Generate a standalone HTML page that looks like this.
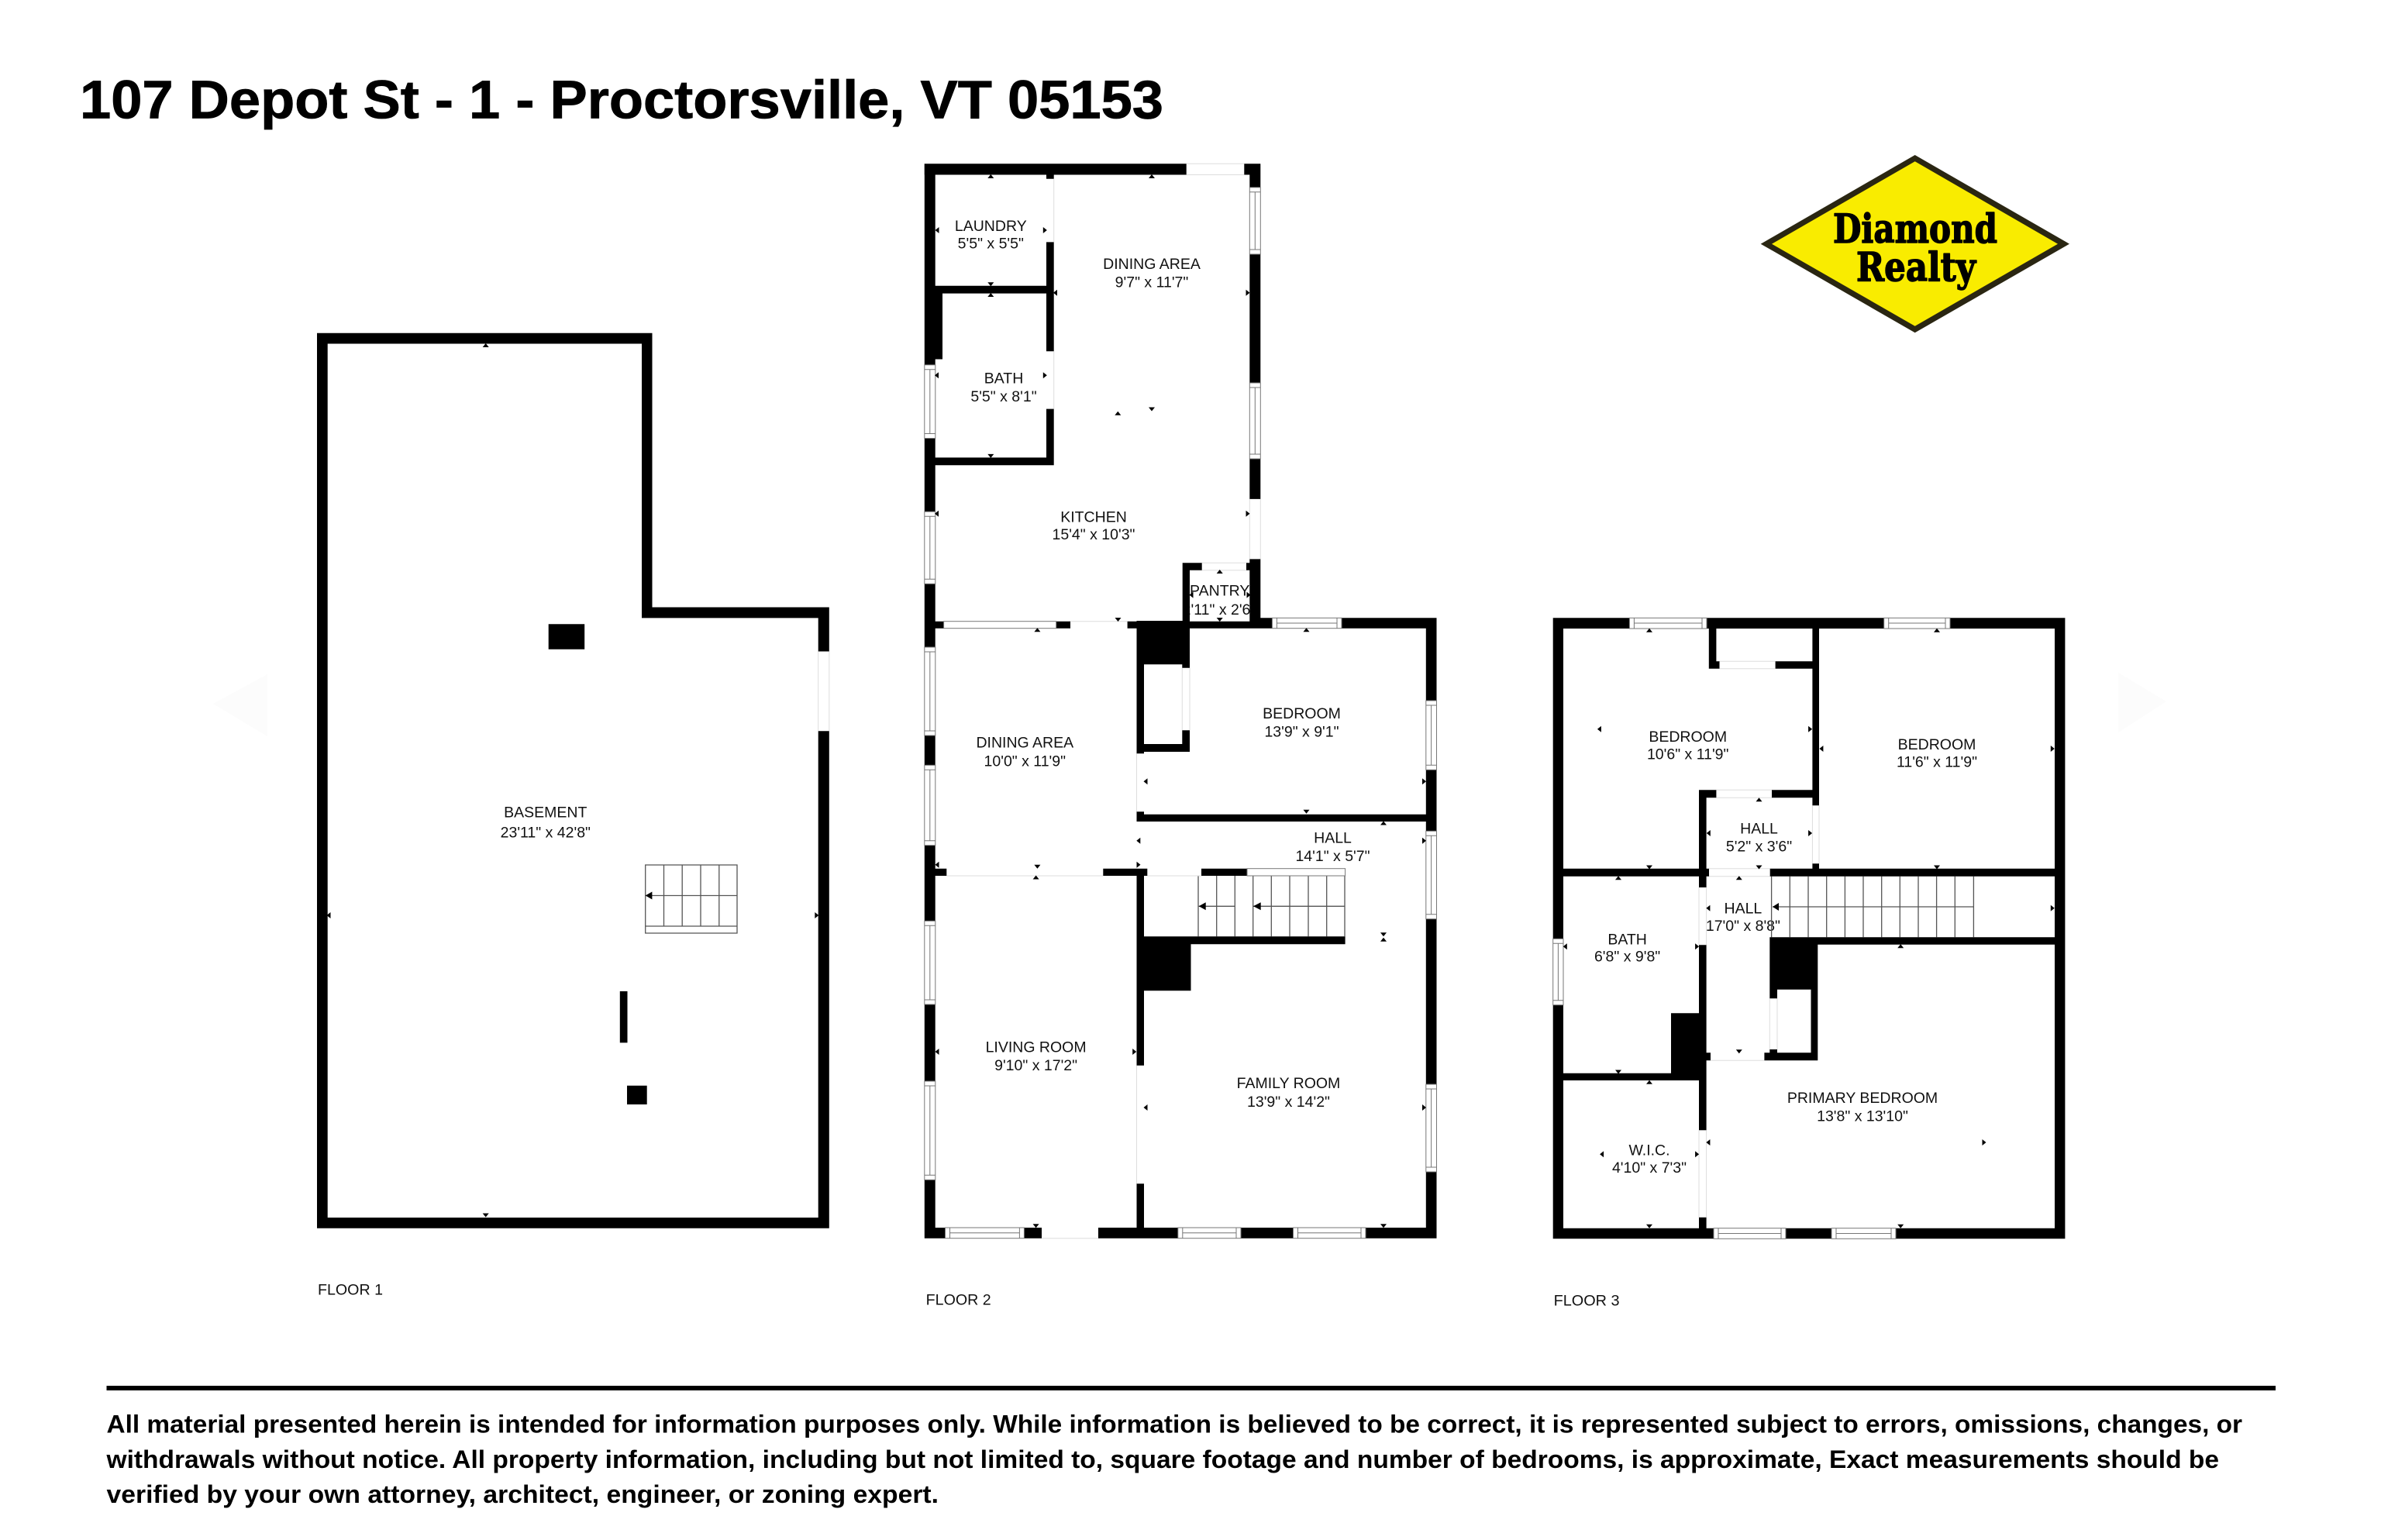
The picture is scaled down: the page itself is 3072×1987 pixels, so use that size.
<!DOCTYPE html>
<html lang="en">
<head>
<meta charset="utf-8">
<title>107 Depot St - 1 - Proctorsville, VT 05153</title>
<style>
html,body{margin:0;padding:0;background:#fff}
svg{display:block}
.t{font-family:"Liberation Sans",Arial,sans-serif;font-size:19.5px;fill:#111;text-anchor:middle}
.f{font-family:"Liberation Sans",Arial,sans-serif;font-size:19.5px;fill:#111}
.h{font-family:"Liberation Sans",Arial,sans-serif;font-weight:700;fill:#000}
.lg{font-family:"DejaVu Serif",serif;font-weight:700;font-size:51px;fill:#000;stroke:#000;stroke-width:1.5;stroke-linejoin:round}
.w{fill:#fff;stroke:#777;stroke-width:1}
.wl{fill:none;stroke:#777;stroke-width:1}
.d{fill:none;stroke:#ddd;stroke-width:1}
.s{fill:none;stroke:#555;stroke-width:1.3}
</style>
</head>
<body>
<svg xmlns="http://www.w3.org/2000/svg" width="3072" height="1987" viewBox="0 0 3072 1987">
<defs>
<path id="u" d="M-4 2.5h8l-4-5z"/>
<path id="n" d="M-4 -2.5h8l-4 5z"/>
<path id="l" d="M2.5 -4v8l-5-4z"/>
<path id="r" d="M-2.5 -4v8l5-4z"/>
</defs>
<rect width="3072" height="1987" fill="#fff"/>

<!-- faint chevrons -->
<polygon points="345,870 275,908 345,950" fill="#fcfcfc"/>
<polygon points="2733,868 2795,905 2733,945" fill="#fcfcfc"/>

<!-- title -->
<text class="h" x="103" y="152.7" font-size="70" stroke="#000" stroke-width="0.8" textLength="1398" lengthAdjust="spacingAndGlyphs">107 Depot St - 1 - Proctorsville, VT 05153</text>

<!-- room labels -->
<g>
<text class="t" x="703.8" y="1054.7">BASEMENT</text><text class="t" x="703.8" y="1080.6">23'11&quot; x 42'8&quot;</text>
<text class="t" x="1278.3" y="297.8">LAUNDRY</text><text class="t" x="1278.3" y="320.7">5'5&quot; x 5'5&quot;</text>
<text class="t" x="1486" y="346.8">DINING AREA</text><text class="t" x="1486" y="370.5">9'7&quot; x 11'7&quot;</text>
<text class="t" x="1295" y="494.6">BATH</text><text class="t" x="1295" y="518.2">5'5&quot; x 8'1&quot;</text>
<text class="t" x="1411" y="673.3">KITCHEN</text><text class="t" x="1411" y="696">15'4&quot; x 10'3&quot;</text>
<text class="t" x="1573.7" y="768.4">PANTRY</text><text class="t" x="1573" y="793">2'11&quot; x 2'6&quot;</text>
<text class="t" x="1679.5" y="927">BEDROOM</text><text class="t" x="1679.5" y="950.3">13'9&quot; x 9'1&quot;</text>
<text class="t" x="1322.3" y="964.7">DINING AREA</text><text class="t" x="1322.3" y="988.3">10'0&quot; x 11'9&quot;</text>
<text class="t" x="1719.5" y="1087.7">HALL</text><text class="t" x="1719.5" y="1111">14'1&quot; x 5'7&quot;</text>
<text class="t" x="1336.6" y="1357.7">LIVING ROOM</text><text class="t" x="1336.6" y="1381">9'10&quot; x 17'2&quot;</text>
<text class="t" x="1662.5" y="1404">FAMILY ROOM</text><text class="t" x="1662.5" y="1428">13'9&quot; x 14'2&quot;</text>
<text class="t" x="2177.7" y="957">BEDROOM</text><text class="t" x="2177.7" y="979.7">10'6&quot; x 11'9&quot;</text>
<text class="t" x="2499" y="967">BEDROOM</text><text class="t" x="2499" y="989.3">11'6&quot; x 11'9&quot;</text>
<text class="t" x="2269.5" y="1075.7">HALL</text><text class="t" x="2269.5" y="1098.7">5'2&quot; x 3'6&quot;</text>
<text class="t" x="2248.9" y="1178.3">HALL</text><text class="t" x="2248.9" y="1201">17'0&quot; x 8'8&quot;</text>
<text class="t" x="2099.6" y="1218.7">BATH</text><text class="t" x="2099.6" y="1240.3">6'8&quot; x 9'8&quot;</text>
<text class="t" x="2403" y="1423">PRIMARY BEDROOM</text><text class="t" x="2403" y="1446.7">13'8&quot; x 13'10&quot;</text>
<text class="t" x="2128" y="1490.3">W.I.C.</text><text class="t" x="2128" y="1513">4'10&quot; x 7'3&quot;</text>
<text class="f" x="410" y="1670.7" textLength="84" lengthAdjust="spacingAndGlyphs">FLOOR  1</text>
<text class="f" x="1194.7" y="1683.7" textLength="84" lengthAdjust="spacingAndGlyphs">FLOOR  2</text>
<text class="f" x="2004.6" y="1684.7" textLength="85" lengthAdjust="spacingAndGlyphs">FLOOR  3</text>
</g>

<!-- stairs -->
<g>
<path class="s" d="M832.7 1116H951V1204H832.7ZM856.5 1116V1195M880.2 1116V1195M904 1116V1195M927.8 1116V1195M832.7 1155.5H951M832.7 1195H951"/>
<path class="s" d="M1546 1130V1208.3M1569.7 1130V1208.3M1593.3 1130V1208.3M1616.7 1130V1208.3M1640.3 1130V1208.3M1664 1130V1208.3M1688 1130V1208.3M1711.7 1130V1208.3M1735 1130V1208.3M1546.7 1169.3H1593.3M1616.7 1169.3H1735"/>
<path class="s" d="M2285.6 1130.7V1209.3M2309.3 1130.7V1209.3M2333 1130.7V1209.3M2356.7 1130.7V1209.3M2380.4 1130.7V1209.3M2404 1130.7V1209.3M2427.7 1130.7V1209.3M2451.3 1130.7V1209.3M2475 1130.7V1209.3M2498.6 1130.7V1209.3M2522.3 1130.7V1209.3M2546.4 1130.7V1209.3M2287 1170H2546.4"/>
<path d="M832.7 1155.5l8.7-5v10zM1546.7 1169.3l9-5v10zM1617 1169.3l9.7-5v10zM2287 1170l8-5v10z"/>
</g>

<!-- door edges -->
<path class="d" d="M1055.7 840.5V943.3M1069.8 840.5V943.3M1530.7 225.5H1605.3M1530.7 211.2H1605.3M1359.7 230.8V312.4M1359.7 453.3V527.6M1612.3 643.9V721.4M1626.3 643.9V721.4M1550.7 735.7H1608M1550.7 726.3H1608M1381 801.7H1454.6M1535 861.7V942.3M1525.3 861.7V942.3M1466.5 972.3V1047.3M1221.3 1130H1423.3M1480.3 1130H1550M1466.5 1374.7V1527.3M1344 1597.7H1417M2218.5 862.7H2290.6M2218.5 853.3H2290.6M2214.4 1029.3H2286M2214.4 1019.3H2286M2347 1039.3V1114.3M2338.4 1039.3V1114.3M2205 1130.7H2283.7M2205 1120.7H2283.7M2192 1145V1219.3M2201.6 1145V1219.3M2293 1288.3V1354M2283.3 1288.3V1354M2207 1368.3H2276.4M2192 1458.3V1570.7M2201.6 1458.3V1570.7"/>

<!-- walls -->
<path fill="#000" d="
M409 429.7H841.5V443.5H409Z
M409 429.7H422.7V1584.7H409Z
M828 429.7H841.5V797.4H828Z
M828 783.5H1069.8V797.4H828Z
M1055.7 783.5H1069.8V840.5H1055.7Z
M1055.7 943.3H1069.8V1584.7H1055.7Z
M409 1571H1069.8V1584.7H409Z
M707.7 805.3H754.2V837.7H707.7Z
M799.8 1279H809.5V1345.4H799.8Z
M809 1400.8H834.7V1425H809Z

M1192.7 211.2H1530.7V225.5H1192.7Z
M1605.3 211.2H1626.3V225.5H1605.3Z
M1192.8 211.2H1206.7V470.8H1192.8Z
M1192.8 565.5H1206.7V660.2H1192.8Z
M1192.8 753.3H1206.7V835H1192.8Z
M1192.8 949H1206.7V987.3H1192.8Z
M1192.8 1090.7H1206.7V1188.3H1192.8Z
M1192.8 1296H1206.7V1395H1192.8Z
M1192.8 1522.3H1206.7V1597.7H1192.8Z
M1612.3 211.2H1626.3V241.8H1612.3Z
M1612.3 328H1626.3V494H1612.3Z
M1612.3 592H1626.3V643.9H1612.3Z
M1612.3 721.4H1626.3V810.7H1612.3Z
M1350 225.5H1359.7V230.8H1350Z
M1350 312.4H1359.7V453.3H1350Z
M1350 527.6H1359.7V600.2H1350Z
M1206.7 368.8H1350V378.6H1206.7Z
M1206.7 368.8H1216V463.5H1206.7Z
M1206.7 590.4H1359.7V600.2H1206.7Z
M1525.7 726.3H1535V810.7H1525.7Z
M1525.7 726.3H1550.7V735.7H1525.7Z
M1608 726.3H1612.3V735.7H1608Z
M1206.7 801.7H1217.6V810.7H1206.7Z
M1362.7 801.7H1381V810.7H1362.7Z
M1454.6 801.7H1626V810.7H1454.6Z
M1626 797.3H1641.4V810.7H1626Z
M1731 797.3H1853.5V810.7H1731Z
M1466.5 801H1535V857.3H1466.5Z
M1525.3 857H1535V861.7H1525.3Z
M1466.5 857H1476V972.3H1466.5Z
M1466.5 960H1535V970H1466.5Z
M1525.3 942.3H1535V970H1525.3Z
M1466.5 1047.3H1476V1060H1466.5Z
M1466.5 1050.7H1853.5V1060H1466.5Z
M1839.8 797.3H1853.5V904H1839.8Z
M1839.8 993.3H1853.5V1072.3H1839.8Z
M1839.8 1185.7H1853.5V1399H1839.8Z
M1839.8 1512H1853.5V1597.7H1839.8Z
M1192.8 1120.7H1221.3V1130H1192.8Z
M1423.3 1120.7H1480.3V1130H1423.3Z
M1550 1120.7H1609V1130H1550Z
M1466.5 1130H1476V1374.7H1466.5Z
M1466.5 1527.3H1476V1597.7H1466.5Z
M1476 1208.3H1735.6V1218.3H1476Z
M1466.5 1208.3H1536.5V1278.3H1466.5Z
M1192.8 1584H1344V1597.7H1192.8Z
M1417 1584H1853.5V1597.7H1417Z

M2003.7 797.3H2017V1211.3H2003.7Z
M2003.7 1296.7H2017V1598.3H2003.7Z
M2003.7 797.3H2102.4V811H2003.7Z
M2202 797.3H2430.7V811H2202Z
M2516 797.3H2664.4V811H2516Z
M2651 797.3H2664.4V1598.3H2651Z
M2003.7 1584.7H2211V1598.3H2003.7Z
M2304 1584.7H2363V1598.3H2304Z
M2446 1584.7H2664.4V1598.3H2446Z
M2204.8 811H2214.4V862.7H2204.8Z
M2204.8 853.3H2218.5V862.7H2204.8Z
M2290.6 853.3H2338.4V862.7H2290.6Z
M2338.4 811H2347V1039.3H2338.4Z
M2338.4 1114.3H2347V1120.7H2338.4Z
M2192 1019.3H2214.4V1029.3H2192Z
M2286 1019.3H2347V1029.3H2286Z
M2192 1019.3H2201.6V1145H2192Z
M2192 1219.3H2201.6V1458.3H2192Z
M2192 1570.7H2201.6V1598H2192Z
M2003.7 1120.7H2205V1130.7H2003.7Z
M2283.7 1120.7H2664V1130.7H2283.7Z
M2283.3 1209.3H2664V1218.7H2283.3Z
M2283.3 1209.3H2345.3V1276.7H2283.3Z
M2283.3 1276H2293V1288.3H2283.3Z
M2283.3 1354H2293V1368.3H2283.3Z
M2276.4 1358.3H2345.3V1368.3H2276.4Z
M2336.5 1276H2345.3V1368.3H2336.5Z
M2201.6 1358.3H2207V1368.3H2201.6Z
M2156 1307.3H2201.6V1394H2156Z
M2003.7 1384.7H2201.6V1394H2003.7Z
"/>

<!-- windows -->
<g>
<rect class="w" x="1192.8" y="470.8" width="14" height="94.7"/><rect class="w" x="1192.8" y="660.2" width="14" height="93.1"/><rect class="w" x="1192.8" y="835" width="14" height="114"/><rect class="w" x="1192.8" y="987.3" width="14" height="103.4"/><rect class="w" x="1192.8" y="1188.3" width="14" height="107.7"/><rect class="w" x="1192.8" y="1395" width="14" height="127.3"/>
<rect class="w" x="1612.3" y="241.8" width="14" height="86.2"/><rect class="w" x="1612.3" y="494" width="14" height="98"/>
<rect class="w" x="1839.8" y="904" width="13.7" height="89.3"/><rect class="w" x="1839.8" y="1072.3" width="13.7" height="113.4"/><rect class="w" x="1839.8" y="1399" width="13.7" height="113"/>
<rect class="w" x="1641.4" y="797.3" width="89.6" height="13.4"/>
<rect class="w" x="1219.5" y="1584" width="101.9" height="13.7"/><rect class="w" x="1519.8" y="1584" width="81.2" height="13.7"/><rect class="w" x="1668.5" y="1584" width="93.5" height="13.7"/>
<rect class="w" x="1217.6" y="801.7" width="145.1" height="9"/>
<rect class="w" x="1609" y="1120.7" width="126.6" height="9.3"/>
<rect class="w" x="2102.4" y="797.3" width="99.6" height="13.7"/><rect class="w" x="2430.7" y="797.3" width="85.3" height="13.7"/>
<rect class="w" x="2211" y="1584.7" width="93" height="13.6"/><rect class="w" x="2363" y="1584.7" width="83" height="13.6"/>
<rect class="w" x="2003.7" y="1211.3" width="13.3" height="85.4"/>
<path class="wl" d="
M1192.8 476.8H1206.8M1192.8 559.5H1206.8M1199.8 476.8V559.5
M1192.8 666.2H1206.8M1192.8 747.3H1206.8M1199.8 666.2V747.3
M1192.8 841H1206.8M1192.8 943H1206.8M1199.8 841V943
M1192.8 993.3H1206.8M1192.8 1084.7H1206.8M1199.8 993.3V1084.7
M1192.8 1194.3H1206.8M1192.8 1290H1206.8M1199.8 1194.3V1290
M1192.8 1401H1206.8M1192.8 1516.3H1206.8M1199.8 1401V1516.3
M1612.3 247.8H1626.3M1612.3 322H1626.3M1619.3 247.8V322
M1612.3 500H1626.3M1612.3 586H1626.3M1619.3 500V586
M1839.8 910H1853.5M1839.8 987.3H1853.5M1846.6 910V987.3
M1839.8 1078.3H1853.5M1839.8 1179.7H1853.5M1846.6 1078.3V1179.7
M1839.8 1405H1853.5M1839.8 1506H1853.5M1846.6 1405V1506
M1647.4 797.3V810.7M1725 797.3V810.7M1647.4 804H1725
M1225.5 1584V1597.7M1315.4 1584V1597.7M1225.5 1590.8H1315.4
M1525.8 1584V1597.7M1595 1584V1597.7M1525.8 1590.8H1595
M1674.5 1584V1597.7M1756 1584V1597.7M1674.5 1590.8H1756
M2108.4 797.3V811M2196 797.3V811M2108.4 804H2196
M2436.7 797.3V811M2510 797.3V811M2436.7 804H2510
M2217 1584.7V1598.3M2298 1584.7V1598.3M2217 1591.5H2298
M2369 1584.7V1598.3M2440 1584.7V1598.3M2369 1591.5H2440
M2003.7 1217.3H2017M2003.7 1290.7H2017M2010.4 1217.3V1290.7
"/>
</g>

<!-- dimension arrowheads -->
<g fill="#000">
<use href="#u" x="626.7" y="445.5"/><use href="#l" x="424" y="1181"/><use href="#r" x="1053.8" y="1181"/><use href="#n" x="626.7" y="1568"/>
<use href="#u" x="1278.3" y="227.5"/><use href="#u" x="1486" y="227.5"/><use href="#l" x="1209" y="297"/><use href="#r" x="1348.3" y="297"/>
<use href="#n" x="1278.3" y="366.7"/><use href="#u" x="1278.3" y="380.5"/><use href="#l" x="1208.5" y="484.3"/><use href="#r" x="1348.3" y="484.3"/>
<use href="#n" x="1278.3" y="588.4"/><use href="#l" x="1361.5" y="377.8"/><use href="#r" x="1610" y="377.8"/><use href="#u" x="1442.3" y="533.3"/><use href="#n" x="1486" y="528"/>
<use href="#l" x="1208.5" y="662.7"/><use href="#r" x="1610" y="662.7"/><use href="#u" x="1573.7" y="737.5"/><use href="#l" x="1537" y="767.6"/><use href="#r" x="1611" y="767.6"/>
<use href="#n" x="1573.7" y="799.5"/><use href="#n" x="1442.5" y="799.5"/><use href="#u" x="1338.4" y="812.8"/><use href="#u" x="1685.5" y="812.8"/>
<use href="#l" x="1478" y="1008.3"/><use href="#r" x="1837.5" y="1008.3"/><use href="#n" x="1685.5" y="1047.3"/><use href="#u" x="1785" y="1062"/>
<use href="#l" x="1468.8" y="1084.7"/><use href="#r" x="1837.5" y="1084.7"/><use href="#l" x="1209" y="1115.7"/><use href="#r" x="1469" y="1115.7"/>
<use href="#n" x="1338.4" y="1118.3"/><use href="#u" x="1336.6" y="1132"/><use href="#n" x="1785" y="1205.7"/><use href="#u" x="1785" y="1212.3"/>
<use href="#l" x="1209" y="1357"/><use href="#r" x="1463.7" y="1357"/><use href="#l" x="1478" y="1429"/><use href="#r" x="1837.5" y="1429"/>
<use href="#n" x="1336.6" y="1581.7"/><use href="#n" x="1785" y="1581.7"/>
<use href="#u" x="2128" y="813.3"/><use href="#u" x="2499" y="813.3"/><use href="#l" x="2063.4" y="940.7"/><use href="#r" x="2335.6" y="940.7"/>
<use href="#l" x="2349.9" y="966"/><use href="#r" x="2648.3" y="966"/><use href="#u" x="2269.5" y="1031.7"/><use href="#l" x="2204.3" y="1075"/><use href="#r" x="2335.6" y="1075"/>
<use href="#n" x="2128" y="1119"/><use href="#n" x="2269.5" y="1119"/><use href="#n" x="2499" y="1119"/><use href="#u" x="2088" y="1132.7"/><use href="#u" x="2243.8" y="1132.7"/>
<use href="#l" x="2203.9" y="1171.7"/><use href="#r" x="2648.3" y="1171.7"/><use href="#l" x="2019.3" y="1221.3"/><use href="#r" x="2189.6" y="1221.3"/><use href="#u" x="2452.2" y="1220.7"/>
<use href="#n" x="2243.8" y="1356.7"/><use href="#n" x="2088" y="1383"/><use href="#u" x="2128" y="1396.3"/><use href="#l" x="2066.6" y="1489.3"/><use href="#r" x="2189.6" y="1489.3"/>
<use href="#l" x="2203.9" y="1474"/><use href="#r" x="2560" y="1474"/><use href="#n" x="2128" y="1582.3"/><use href="#n" x="2452.2" y="1582.3"/>
</g>

<!-- logo -->
<polygon points="2470.7,200 2670,314.7 2470.7,429.3 2271.7,314.7" fill="#2a2612"/>
<polygon points="2470.7,208.3 2655,314.7 2470.7,420.7 2286,314.7" fill="#f9ec00"/>
<text class="lg" x="2365" y="313" textLength="212" lengthAdjust="spacingAndGlyphs">Diamond</text>
<text class="lg" x="2395" y="362.5" textLength="154" lengthAdjust="spacingAndGlyphs">Realty</text>

<!-- footer -->
<rect x="137.5" y="1788" width="2798.5" height="6" fill="#000"/>
<text class="h" x="137.5" y="1848.7" font-size="32" textLength="2755.5" lengthAdjust="spacingAndGlyphs">All material presented herein is intended for information purposes only. While information is believed to be correct, it is represented subject to errors, omissions, changes, or</text>
<text class="h" x="137.5" y="1894" font-size="32" textLength="2725.5" lengthAdjust="spacingAndGlyphs">withdrawals without notice. All property information, including but not limited to, square footage and number of bedrooms, is approximate, Exact measurements should be</text>
<text class="h" x="137.5" y="1939" font-size="32" textLength="1073.5" lengthAdjust="spacingAndGlyphs">verified by your own attorney, architect, engineer, or zoning expert.</text>
</svg>
</body>
</html>
